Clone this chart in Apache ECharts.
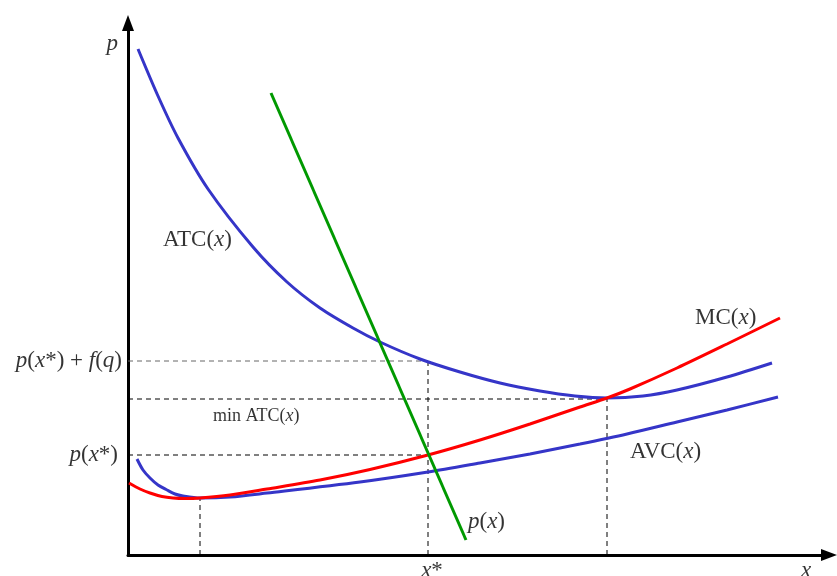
<!DOCTYPE html>
<html>
<head>
<meta charset="utf-8">
<style>html,body{margin:0;padding:0;background:#fff}#c{width:837px;height:576px}</style>
<script src="https://cdn.jsdelivr.net/npm/echarts@6/dist/echarts.min.js"></script>
</head>
<body>
<div id="c"></div>
<script>
// quantity x, price p (arbitrary units)
const atc = [[10,506],[30,459],[50,417],[80,366],[125,308],[159,273],[192,247],[225,227],[252,213],[292,196],[332,183],[372,172],[412,164],[447,159],[479,157],[515,159],[549,165],[599,178],[644,192]];
const avc = [[9,96],[15,85],[22,77],[30,70],[39,65],[47,61],[55,59],[72,57],[102,58],[139,62],[232,73],[300,83],[352,92],[402,101],[452,111],[499,121],[549,133],[599,145],[650,158]];
const mc  = [[1,72],[12,66],[22,62],[34,58.5],[45,57],[57,56.5],[72,57],[102,60],[139,66],[192,75],[242,85.5],[300,100],[352,115],[402,131],[452,148],[479,157],[502,166],[549,187],[599,211],[652,237]];
const demand = [[143,462],[338,15]];
const xStar = 300, xMinAvc = 72, xMinAtc = 479;
const pStar = 100, pStarF = 194, minAtc = 156;

const serif = '"Liberation Serif","Times New Roman",serif';
const rich = {
  n:{fontFamily:serif,fontSize:23,color:'#000'},
  i:{fontFamily:serif,fontSize:23,fontStyle:'italic',color:'#000'},
  sn:{fontFamily:serif,fontSize:18,color:'#000'},
  si:{fontFamily:serif,fontSize:18,fontStyle:'italic',color:'#000'}
};
function dash(pts, color){
  return {type:'line',data:pts,symbol:'none',silent:true,z:1,
    lineStyle:{color:color||'#000',width:1,type:[5,4]}};
}
function curve(pts,color){
  return {type:'line',data:pts,symbol:'none',smooth:0.3,silent:true,z:3,
    lineStyle:{color:color,width:3}};
}
const labels = [
  {value:[35,315],f:'{n|ATC(}{i|x}{n|)}',pos:'right',d:0},
  {value:[567,237],f:'{n|MC(}{i|x}{n|)}',pos:'right',d:0},
  {value:[502,103],f:'{n|AVC(}{i|x}{n|)}',pos:'right',d:0},
  {value:[340,33],f:'{i|p}{n|(}{i|x}{n|)}',pos:'right',d:0},
  {value:[85,139],f:'{sn|min ATC(}{si|x}{sn|)}',pos:'right',d:0},
  {value:[0,pStarF],f:'{i|p}{n|(}{i|x}{n|*) + }{i|f}{n|(}{i|q}{n|)}',pos:'left',d:6},
  {value:[0,pStar],f:'{i|p}{n|(}{i|x}{n|*)}',pos:'left',d:10},
  {value:[0,511],f:'{i|p}',pos:'left',d:10},
  {value:[304,0],f:'{i|x}{n|*}',pos:'bottom',d:4},
  {value:[678,0],f:'{i|x}',pos:'bottom',d:4}
];
const chart = echarts.init(document.getElementById('c'),null,{renderer:'canvas'});
chart.setOption({
  animation:false,
  backgroundColor:'#fff',
  grid:{left:128,right:8,top:23,bottom:21,containLabel:false},
  xAxis:{type:'value',min:0,max:701,
    axisLine:{show:true,onZero:false,symbol:['none','triangle'],symbolSize:[12,16],lineStyle:{color:'#000',width:3}},
    axisTick:{show:false},axisLabel:{show:false},splitLine:{show:false}},
  yAxis:{type:'value',min:0,max:532,
    axisLine:{show:true,onZero:false,symbol:['none','triangle'],symbolSize:[12,16],lineStyle:{color:'#000',width:3}},
    axisTick:{show:false},axisLabel:{show:false},splitLine:{show:false}},
  series:[
    dash([[0,pStarF],[xStar,pStarF]],'#666'),
    dash([[0,minAtc],[xMinAtc,minAtc]]),
    dash([[0,pStar],[xStar,pStar]]),
    dash([[xStar,0],[xStar,pStarF]]),
    dash([[xMinAtc,0],[xMinAtc,minAtc]]),
    dash([[xMinAvc,0],[xMinAvc,57]]),
    curve(atc,'#3535c8'),
    curve(avc,'#3535c8'),
    curve(mc,'#ff0000'),
    {type:'line',data:demand,symbol:'none',silent:true,z:3,lineStyle:{color:'#009900',width:3}},
    {type:'scatter',symbolSize:0,silent:true,clip:false,z:5,
      data:labels.map(l=>({value:l.value,label:{show:true,position:l.pos,distance:l.d,formatter:l.f,color:'#000',rich:rich}}))}
  ]
});
</script>
</body>
</html>
